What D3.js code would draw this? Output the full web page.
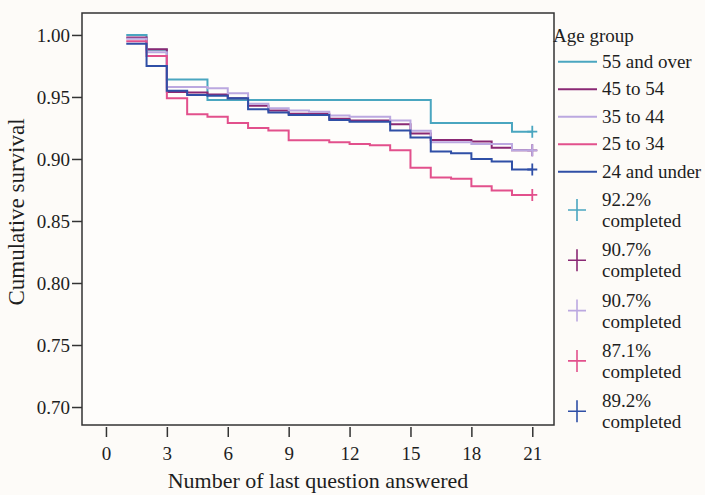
<!DOCTYPE html>
<html><head><meta charset="utf-8">
<script src="https://cdn.jsdelivr.net/npm/d3@7"></script>
<style>
html,body{margin:0;padding:0;background:#fdfbf8;}
svg{display:block;}
svg text{font-family:"Liberation Serif","Times New Roman",serif !important;fill:#1e1e1e;}
</style></head>
<body>
<svg id="chart" width="705" height="495"></svg>
<script>
// ---- data ----
const questions = [1,2,3,4,5,6,7,8,9,10,11,12,13,14,15,16,17,18,19,20,21];
const groups = ["55 and over","45 to 54","35 to 44","25 to 34","24 and under"];
const colors = ["#4aa6c0","#8a2874","#bba8e0","#e2508c","#2f4fa6"];
const survival55over = [1.000,0.988,0.964,0.964,0.9475,0.9475,0.9475,0.9475,0.9475,0.9475,0.9475,0.9475,0.9475,0.9475,0.9475,0.929,0.929,0.929,0.929,0.922,0.922];
const survival45to54 = [0.998,0.9885,0.954,0.9536,0.952,0.949,0.943,0.939,0.9365,0.9365,0.9325,0.931,0.931,0.928,0.9206,0.9153,0.9153,0.914,0.909,0.907,0.907];
const survival35to44 = [0.997,0.986,0.958,0.958,0.957,0.953,0.9445,0.941,0.939,0.938,0.935,0.934,0.934,0.931,0.9228,0.9134,0.9134,0.912,0.912,0.907,0.907];
const survival25to34 = [0.995,0.983,0.949,0.936,0.934,0.929,0.925,0.923,0.915,0.915,0.9134,0.912,0.911,0.907,0.893,0.885,0.884,0.878,0.8746,0.871,0.871];
const survival24under = [0.993,0.975,0.955,0.9515,0.951,0.949,0.940,0.9375,0.9355,0.9355,0.9314,0.930,0.930,0.923,0.9174,0.906,0.9046,0.900,0.898,0.8915,0.8915];
const seriesValues = [survival55over,survival45to54,survival35to44,survival25to34,survival24under];
const completedLabels = ["92.2%","90.7%","90.7%","87.1%","89.2%"];
const xTicks = [0,3,6,9,12,15,18,21];
const yTicks = [0.70,0.75,0.80,0.85,0.90,0.95,1.00];

// ---- layout ----
const FONT = "'Liberation Serif', 'Times New Roman', serif";
const svg = d3.select("#chart").attr("font-family",FONT);
const frame = {left:82, top:13, right:554, bottom:425};
const x = d3.scaleLinear().domain([-1.18, 22.07]).range([frame.left, frame.right]);
const y = d3.scaleLinear().domain([0.6855, 1.0177]).range([frame.bottom, frame.top]);

// frame
svg.append("rect").attr("x",frame.left).attr("y",frame.top)
  .attr("width",frame.right-frame.left).attr("height",frame.bottom-frame.top)
  .attr("fill","#fefdfb").attr("stroke","#333").attr("stroke-width",1.5);

// y axis
const yAxis = d3.axisLeft(y).tickValues(yTicks).tickFormat(d3.format(".2f")).tickSize(10).tickPadding(2);
const gy = svg.append("g").attr("transform",`translate(${frame.left},0)`).call(yAxis)
  .attr("font-family",FONT).attr("font-size",19);
gy.select(".domain").remove();
gy.selectAll(".tick line").attr("stroke","#333").attr("stroke-width",1.5);
gy.selectAll(".tick text").attr("fill","#1e1e1e");

// x axis
const xAxis = d3.axisBottom(x).tickValues(xTicks).tickSize(10).tickPadding(10);
const gx = svg.append("g").attr("transform",`translate(0,${frame.bottom+2})`).call(xAxis)
  .attr("font-family",FONT).attr("font-size",19);
gx.select(".domain").remove();
gx.selectAll(".tick line").attr("stroke","#333").attr("stroke-width",1.5);
gx.selectAll(".tick text").attr("fill","#1e1e1e");

// axis titles
svg.append("text").attr("x",(frame.left+frame.right)/2).attr("y",488)
  .attr("text-anchor","middle").attr("font-size",22).text("Number of last question answered");
svg.append("text").attr("transform",`translate(24,212) rotate(-90)`)
  .attr("text-anchor","middle").attr("font-size",23).text("Cumulative survival");

// step lines
const line = d3.line().x(d=>x(d[0])).y(d=>y(d[1])).curve(d3.curveStepAfter);
seriesValues.forEach((vals,i)=>{
  const pts = questions.map((q,j)=>[q,vals[j]]);
  svg.append("path").datum(pts).attr("d",line).attr("fill","none")
    .attr("stroke",colors[i]).attr("stroke-width",2);
  const last = pts[pts.length-1];
  const cx = x(last[0]), cy = y(last[1]);
  svg.append("path").attr("d",`M${cx-5},${cy}H${cx+5}M${cx},${cy-6}V${cy+6}`)
    .attr("stroke",colors[i]).attr("stroke-width",1.8);
});

// legend
const lg = svg.append("g");
lg.append("text").attr("x",553).attr("y",42).attr("font-size",19).text("Age group");
groups.forEach((g,i)=>{
  const yy = 61.7 + i*27.5;
  lg.append("line").attr("x1",558).attr("x2",597).attr("y1",yy).attr("y2",yy)
    .attr("stroke",colors[i]).attr("stroke-width",2);
  lg.append("text").attr("x",602).attr("y",yy+6).attr("font-size",19).text(g);
});
completedLabels.forEach((c,i)=>{
  const yy = 210 + i*50.3;
  lg.append("path").attr("d",`M${568},${yy}H${586}M${577},${yy-11}V${yy+11}`)
    .attr("stroke",colors[i]).attr("stroke-width",1.6);
  lg.append("text").attr("x",602).attr("y",yy-4).attr("font-size",19).text(c);
  lg.append("text").attr("x",602).attr("y",yy+17).attr("font-size",19).text("completed");
});
</script>
</body></html>
